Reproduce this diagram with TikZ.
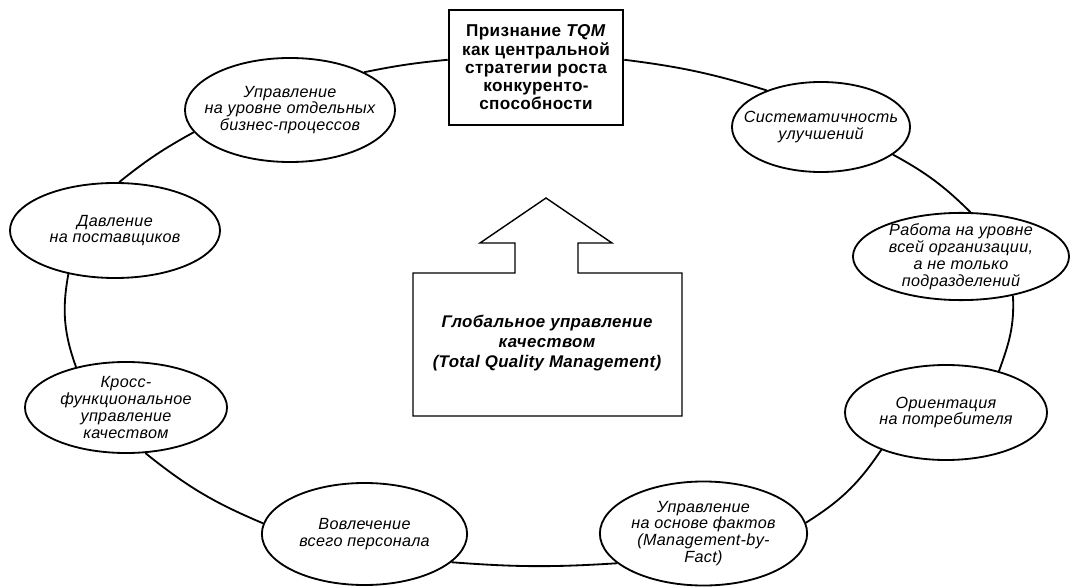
\documentclass[tikz,border=0pt]{standalone}
\usepackage{fontspec}
\setmainfont{Liberation Sans}
\newfontfamily\tqmfont[LetterSpace=2]{Liberation Sans}
\usetikzlibrary{shapes.geometric}

\begin{document}
\begin{tikzpicture}[x=0.025cm, y=0.025cm,
	oval/.style={ellipse, draw, line width=1.3pt, inner xsep=-15pt, inner ysep=-8pt, align=center,
		font=\tqmfont\itshape\fontsize{11.5}{12}\selectfont},
	link/.style={line width=1.3pt}]
	\useasboundingbox (0,0) rectangle (1072,587);

	% central box with arrow
	\draw[line width=1pt] (413,314) -- (515,314) -- (515,344) -- (480,344) -- (546,389)
		-- (612,344) -- (578,344) -- (578,314) -- (682,314) -- (682,171) -- (413,171) -- cycle;
	\node[align=center, font=\tqmfont\bfseries\itshape\fontsize{12}{14.2}\selectfont] (gum) at (547,244)
		{Глобальное управление\\качеством\\(Total Quality Management)};

	% top box
	\node[draw, line width=1.8pt, minimum width=4.35cm, minimum height=2.875cm, align=center,
		font=\tqmfont\bfseries\fontsize{12.2}{13}\selectfont] (tqm) at (536,519.5)
		{Признание \textit{TQM}\\как центральной\\стратегии роста\\конкуренто-\\способности};

	% ovals
	\node[oval, minimum width=5.25cm, minimum height=2.6cm] (upr) at (290,477)
		{Управление\\на уровне отдельных\\бизнес-процессов};
	\node[oval, minimum width=4.45cm, minimum height=2.25cm] (sys) at (821,460)
		{Систематичность\\улучшений};
	\node[oval, minimum width=5.4cm, minimum height=2.18cm] (rab) at (961,330.5)
		{Работа на уровне\\всей организации,\\а не только\\подразделений};
	\node[oval, minimum width=5.05cm, minimum height=2.375cm] (ori) at (946,174.5)
		{Ориентация\\на потребителя};
	\node[oval, minimum width=5.18cm, minimum height=2.6cm] (fact) at (703.5,53.5)
		{Управление\\на основе фактов\\(Management-by-\\Fact)};
	\node[oval, minimum width=5.13cm, minimum height=2.55cm] (vovl) at (364.5,53)
		{Вовлечение\\всего персонала};
	\node[oval, minimum width=5.05cm, minimum height=2.275cm] (kross) at (126,179.5)
		{Кросс-\\функциональное\\управление\\качеством};
	\node[oval, minimum width=5.25cm, minimum height=2.375cm] (davl) at (115,356.5)
		{Давление\\на поставщиков};

	% ring
	\draw[link] (tqm.5) to[bend left=5] (sys.146);
	\draw[link] (sys.-21) to[bend left=8] (rab.78);
	\draw[link] (rab.-37) to[out=-87, in=70] (ori.38);
	\draw[link] (ori.-150) to[bend left=12] (fact.6);
	\draw[link] (fact.-161) to[bend left=4] (vovl.-18);
	\draw[link] (vovl.174) to[bend left=8] (kross.-67);
	\draw[link] (kross.141) to[bend left=15] (davl.-137);
	\draw[link] (davl.85) to[bend left=5] (upr.-167);
	\draw[link] (upr.27) to[bend left=3] (tqm.175);
\end{tikzpicture}
\end{document}
